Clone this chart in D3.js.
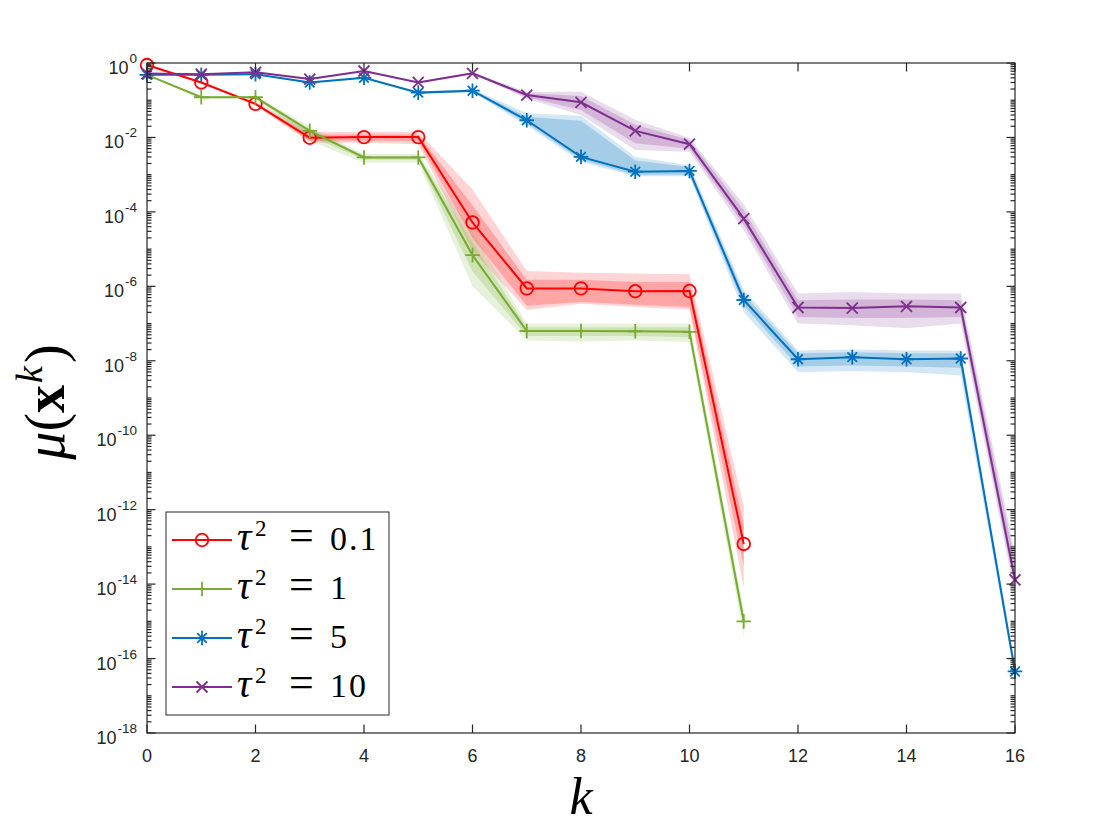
<!DOCTYPE html>
<html lang="en">
<head>
    <meta charset="UTF-8">
    <title>mu(x^k) versus k</title>
    <script src="https://d3js.org/d3.v7.min.js"></script>
    <style>
        body { margin: 0; background: #fff; }
        .tick-label { font-family: "Liberation Sans", Arial, Helvetica, sans-serif; font-size: 18px; fill: #262626; }
        .math { font-family: "Liberation Serif", "DejaVu Serif", serif; fill: #000; }
    </style>
</head>
<body>
    <svg width="1120" height="840"></svg>
    <script>
        // iterations
        const kShort = [0, 1, 2, 3, 4, 5, 6, 7, 8, 9, 10, 11];
        const kLong = [0, 1, 2, 3, 4, 5, 6, 7, 8, 9, 10, 11, 12, 13, 14, 15, 16];

        // tau^2 = 0.1
        const t01Mean    = [0.88, 0.3, 0.08, 0.0098, 0.0102, 0.0102, 5.2e-5, 8.8e-7, 8.8e-7, 7.4e-7, 7.5e-7, 1.2e-13];
        const t01OuterHi = [0.92, 0.32, 0.088, 0.014, 0.014, 0.014, 4e-4, 2.6e-6, 2.3e-6, 2.2e-6, 2.1e-6, 1.2e-12];
        const t01InnerHi = [0.9, 0.31, 0.084, 0.012, 0.012, 0.012, 1.5e-4, 1.5e-6, 1.5e-6, 1.3e-6, 1.3e-6, 4e-13];
        const t01InnerLo = [0.86, 0.29, 0.076, 0.0082, 0.0082, 0.008, 2e-5, 3e-7, 3.8e-7, 3.2e-7, 2.8e-7, 3e-14];
        const t01OuterLo = [0.84, 0.28, 0.072, 0.0072, 0.0072, 0.0066, 9e-6, 2.3e-7, 3.4e-7, 2.8e-7, 2.4e-7, 8e-15];

        // tau^2 = 1
        const t1Mean    = [0.48, 0.12, 0.12, 0.015, 0.0029, 0.0029, 6.9e-6, 6.3e-8, 6.3e-8, 6.2e-8, 6e-8, 1e-15];
        const t1OuterHi = [0.5, 0.13, 0.13, 0.02, 0.0036, 0.0036, 3e-5, 1e-7, 1e-7, 1e-7, 1e-7, 2e-15];
        const t1InnerHi = [0.49, 0.125, 0.125, 0.017, 0.0032, 0.0032, 1.5e-5, 8e-8, 8e-8, 8e-8, 8e-8, 1.5e-15];
        const t1InnerLo = [0.47, 0.115, 0.115, 0.011, 0.0025, 0.0025, 2.5e-6, 4.6e-8, 4.6e-8, 4.6e-8, 4.3e-8, 6e-16];
        const t1OuterLo = [0.46, 0.11, 0.11, 0.008, 0.0021, 0.0021, 1e-6, 3.5e-8, 3.3e-8, 3.5e-8, 3.2e-8, 4e-16];

        // tau^2 = 5
        const t5Mean    = [0.48, 0.48, 0.5, 0.3, 0.4, 0.16, 0.18, 0.029, 0.003, 0.0012, 0.00126, 4.3e-7, 1.1e-8, 1.25e-8, 1.1e-8, 1.15e-8, 4.5e-17];
        const t5OuterHi = [0.5, 0.5, 0.52, 0.32, 0.42, 0.17, 0.2, 0.045, 0.038, 0.003, 0.0018, 8e-7, 1.9e-8, 2e-8, 1.9e-8, 1.9e-8, 7e-17];
        const t5InnerHi = [0.49, 0.49, 0.51, 0.31, 0.41, 0.165, 0.19, 0.036, 0.028, 0.0024, 0.0016, 6e-7, 1.6e-8, 1.7e-8, 1.6e-8, 1.6e-8, 5.5e-17];
        const t5InnerLo = [0.47, 0.47, 0.49, 0.29, 0.39, 0.155, 0.17, 0.024, 0.0025, 0.001, 0.001, 3e-7, 7e-9, 7.5e-9, 7e-9, 6.5e-9, 3.8e-17];
        const t5OuterLo = [0.46, 0.46, 0.48, 0.28, 0.38, 0.15, 0.16, 0.021, 0.0022, 0.0009, 0.0009, 2e-7, 5e-9, 5.2e-9, 5e-9, 4e-9, 3e-17];

        // tau^2 = 10
        const t10Mean    = [0.52, 0.5, 0.56, 0.37, 0.61, 0.3, 0.53, 0.138, 0.088, 0.015, 0.0066, 6.6e-5, 2.7e-7, 2.6e-7, 2.9e-7, 2.7e-7, 1.3e-14];
        const t10OuterHi = [0.54, 0.52, 0.58, 0.39, 0.64, 0.32, 0.56, 0.17, 0.17, 0.03, 0.0096, 1.6e-4, 6.4e-7, 7e-7, 6.4e-7, 6.4e-7, 7e-14];
        const t10InnerHi = [0.53, 0.51, 0.57, 0.38, 0.62, 0.31, 0.545, 0.155, 0.13, 0.022, 0.0085, 1.1e-4, 4.2e-7, 4.4e-7, 4.4e-7, 4.2e-7, 4e-14];
        const t10InnerLo = [0.51, 0.49, 0.55, 0.36, 0.6, 0.29, 0.515, 0.12, 0.055, 0.007, 0.005, 4.5e-5, 1.5e-7, 1.4e-7, 1.4e-7, 1.5e-7, 8e-15];
        const t10OuterLo = [0.5, 0.48, 0.54, 0.35, 0.58, 0.28, 0.5, 0.11, 0.04, 0.0046, 0.0041, 3.2e-5, 1e-7, 9e-8, 7.5e-8, 1e-7, 5e-15];

        const legendLabels = ["0.1", "1", "5", "10"];
        const xTickValues = [0, 2, 4, 6, 8, 10, 12, 14, 16];
        const yTickExponents = [0, -2, -4, -6, -8, -10, -12, -14, -16, -18];

        const series = [
            { label: legendLabels[0], k: kShort, mean: t01Mean, oHi: t01OuterHi, iHi: t01InnerHi, iLo: t01InnerLo, oLo: t01OuterLo, color: "#ff0000", marker: "circle" },
            { label: legendLabels[1], k: kShort, mean: t1Mean, oHi: t1OuterHi, iHi: t1InnerHi, iLo: t1InnerLo, oLo: t1OuterLo, color: "#77ac30", marker: "plus" },
            { label: legendLabels[2], k: kLong, mean: t5Mean, oHi: t5OuterHi, iHi: t5InnerHi, iLo: t5InnerLo, oLo: t5OuterLo, color: "#0072bd", marker: "star" },
            { label: legendLabels[3], k: kLong, mean: t10Mean, oHi: t10OuterHi, iHi: t10InnerHi, iLo: t10InnerLo, oLo: t10OuterLo, color: "#7e2f8e", marker: "cross" }
        ];

        const plotLeft = 147, plotRight = 1015, plotTop = 63, plotBottom = 733;
        const svg = d3.select("svg");
        const x = d3.scaleLinear().domain([0, 16]).range([plotLeft, plotRight]);
        const y = d3.scaleLog().domain([1e-18, 1]).range([plotBottom, plotTop]);

        // bands first
        const bands = svg.append("g");
        series.forEach(s => {
            const idx = d3.range(s.k.length);
            const outer = d3.area().x(i => x(s.k[i])).y0(i => y(s.oLo[i])).y1(i => y(s.oHi[i]));
            const inner = d3.area().x(i => x(s.k[i])).y0(i => y(s.iLo[i])).y1(i => y(s.iHi[i]));
            bands.append("path").attr("d", outer(idx)).attr("fill", s.color).attr("fill-opacity", 0.17);
            bands.append("path").attr("d", inner(idx)).attr("fill", s.color).attr("fill-opacity", 0.22);
        });

        // marker shapes, drawn around 0,0
        function drawMarker(sel, type, color) {
            const r = 6.3;
            if (type === "circle") {
                sel.append("circle").attr("r", r).attr("fill", "none").attr("stroke", color).attr("stroke-width", 1.8);
                return;
            }
            let d = "";
            if (type === "plus" || type === "star") d += `M${-r - 1},0H${r + 1}M0,${-r - 1}V${r + 1}`;
            if (type === "cross" || type === "star") {
                const a = type === "star" ? 4.8 : 5.5;
                d += `M${-a},${-a}L${a},${a}M${-a},${a}L${a},${-a}`;
            }
            sel.append("path").attr("d", d).attr("stroke", color).attr("stroke-width", 1.8).attr("fill", "none");
        }

        const lines = svg.append("g");
        series.forEach(s => {
            const idx = d3.range(s.k.length);
            const line = d3.line().x(i => x(s.k[i])).y(i => y(s.mean[i]));
            lines.append("path").attr("d", line(idx)).attr("fill", "none")
                .attr("stroke", s.color).attr("stroke-width", 2);
            idx.forEach(i => {
                const m = lines.append("g").attr("transform", `translate(${x(s.k[i])},${y(s.mean[i])})`);
                drawMarker(m, s.marker, s.color);
            });
        });

        // axes box and ticks
        const axis = svg.append("g").attr("stroke", "#262626").attr("stroke-width", 1.2);
        axis.append("rect").attr("x", plotLeft).attr("y", plotTop)
            .attr("width", plotRight - plotLeft).attr("height", plotBottom - plotTop)
            .attr("fill", "none");

        xTickValues.forEach(v => {
            axis.append("line").attr("x1", x(v)).attr("x2", x(v)).attr("y1", plotBottom).attr("y2", plotBottom - 8.5);
            axis.append("line").attr("x1", x(v)).attr("x2", x(v)).attr("y1", plotTop).attr("y2", plotTop + 8.5);
            svg.append("text").attr("class", "tick-label").attr("x", x(v)).attr("y", plotBottom + 29)
                .attr("text-anchor", "middle").text(v);
        });

        // log minor ticks: every 1..9 x 10^n
        for (let e = -18; e < 0; e++) {
            for (let m = 1; m <= 9; m++) {
                const v = m * Math.pow(10, e);
                if (m === 1 && e % 2 === 0) continue;
                [[plotLeft, plotLeft + 4.5], [plotRight, plotRight - 4.5]].forEach(([a, b]) => {
                    axis.append("line").attr("x1", a).attr("x2", b).attr("y1", y(v)).attr("y2", y(v));
                });
            }
        }

        yTickExponents.forEach(e => {
            const v = Math.pow(10, e);
            axis.append("line").attr("x1", plotLeft).attr("x2", plotLeft + 8.5).attr("y1", y(v)).attr("y2", y(v));
            axis.append("line").attr("x1", plotRight).attr("x2", plotRight - 8.5).attr("y1", y(v)).attr("y2", y(v));
            const t = svg.append("text").attr("class", "tick-label").attr("x", 137).attr("y", y(v) + 11)
                .attr("text-anchor", "end");
            t.append("tspan").text("10");
            t.append("tspan").attr("font-size", "13.5px").attr("dx", 1).attr("dy", -11).text(e);
        });

        // axis labels
        const yl = svg.append("text").attr("class", "math").attr("font-size", "56px")
            .attr("text-anchor", "middle").attr("transform", "translate(64,402) rotate(-90)");
        yl.append("tspan").attr("font-style", "italic").text("μ");
        yl.append("tspan").text("(");
        yl.append("tspan").attr("font-weight", "bold").text("x");
        yl.append("tspan").attr("font-style", "italic").attr("font-size", "38px").attr("dx", 2).attr("dy", -22).text("k");
        yl.append("tspan").attr("dx", 3).attr("dy", 22).text(")");

        svg.append("text").attr("class", "math").attr("font-size", "52px").attr("font-style", "italic")
            .attr("x", (plotLeft + plotRight) / 2).attr("y", 814).attr("text-anchor", "middle").text("k");

        // legend
        const lg = svg.append("g");
        lg.append("rect").attr("x", 166).attr("y", 512).attr("width", 223).attr("height", 203)
            .attr("fill", "#fff").attr("stroke", "#262626").attr("stroke-width", 1);
        series.forEach((s, i) => {
            const cy = 540 + i * 49;
            lg.append("line").attr("x1", 172).attr("x2", 232).attr("y1", cy).attr("y2", cy)
                .attr("stroke", s.color).attr("stroke-width", 2);
            drawMarker(lg.append("g").attr("transform", `translate(202,${cy})`), s.marker, s.color);
            const t = lg.append("text").attr("class", "math").attr("font-size", "34px").attr("y", cy + 10);
            t.append("tspan").attr("x", 237).attr("font-style", "italic").attr("font-size", "40px").text("τ");
            t.append("tspan").attr("x", 255).attr("font-size", "23px").attr("dy", -14).text("2");
            t.append("tspan").attr("x", 289).attr("font-size", "44px").attr("dy", 14).text("=");
            t.append("tspan").attr("x", 330).attr("letter-spacing", "2px").text(s.label);
        });
    </script>
</body>
</html>
